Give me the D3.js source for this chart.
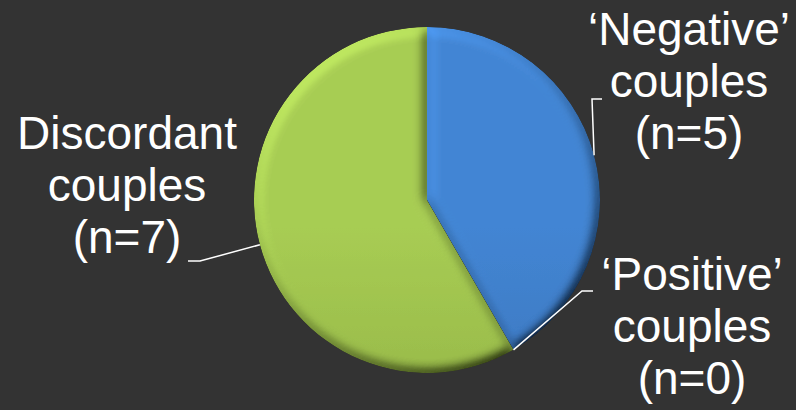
<!DOCTYPE html>
<html>
<head>
<meta charset="utf-8">
<script src="https://cdn.jsdelivr.net/npm/d3@7"></script>
<style>
  html, body { margin: 0; padding: 0; background: #333333; }
  svg { display: block; }
</style>
</head>
<body>
<svg id="chart" width="796" height="410"></svg>
<script>
// Couples by status
const categories = ["Negative", "Positive", "Discordant"];
const values = [5, 0, 7];
const labelLines = [
  ["\u2018Negative\u2019", "couples", "(n=5)"],
  ["\u2018Positive\u2019", "couples", "(n=0)"],
  ["Discordant", "couples", "(n=7)"]
];

const W = 796, H = 410;
const cx = 427, cy = 200, R = 173;
const svg = d3.select("#chart");
svg.append("rect").attr("width", W).attr("height", H).attr("fill", "#333333");

const defs = svg.append("defs");
const palette = {
  Negative: ["#4386d4", "#3669ac"],
  Positive: ["#c0504d", "#9b3b39"],
  Discordant: ["#a8cd54", "#88a63e"]
};
categories.forEach(c => {
  const g = defs.append("linearGradient").attr("id", "grad-" + c)
    .attr("gradientUnits", "userSpaceOnUse")
    .attr("x1", 0).attr("y1", cy - R).attr("x2", 0).attr("y2", cy + R);
  g.append("stop").attr("offset", "0%").attr("stop-color", palette[c][0]);
  g.append("stop").attr("offset", "100%").attr("stop-color", palette[c][1]);
});

// soft bevel along each slice's edges
const f = defs.append("filter").attr("id", "bevel")
  .attr("x", "-5%").attr("y", "-5%").attr("width", "110%").attr("height", "110%");
f.append("feGaussianBlur").attr("in", "SourceAlpha").attr("stdDeviation", 6).attr("result", "blur");
const dl = f.append("feDiffuseLighting").attr("in", "blur").attr("surfaceScale", 7)
  .attr("diffuseConstant", 1).attr("lighting-color", "#ffffff").attr("result", "light");
dl.append("feDistantLight").attr("azimuth", 235).attr("elevation", 50);
f.append("feComposite").attr("in", "light").attr("in2", "SourceAlpha").attr("operator", "in").attr("result", "lightIn");
f.append("feComposite").attr("in", "SourceGraphic").attr("in2", "lightIn")
  .attr("operator", "arithmetic").attr("k1", 1.3).attr("k2", 0).attr("k3", 0).attr("k4", 0);

const pie = d3.pie().sort(null).value(d => d.value);
const data = pie(categories.map((c, i) => ({ name: c, value: values[i], lines: labelLines[i] })));
const arc = d3.arc().innerRadius(0).outerRadius(R);

const g = svg.append("g").attr("transform", `translate(${cx},${cy})`);
g.selectAll("path.slice")
  .data(data.filter(d => d.data.value > 0))
  .join("path")
  .attr("class", "slice")
  .attr("d", arc)
  .attr("fill", d => `url(#grad-${d.data.name})`)
  .attr("filter", "url(#bevel)");

// label blocks and their leader stubs
const labelPos = {
  Negative: { x: 689, y: 45, stub: [602, 592, 99] },
  Positive: { x: 692, y: 290, stub: [593, 582, 291] },
  Discordant: { x: 127, y: 149, stub: [188, 200, 261] }
};
const lineH = 52;

data.forEach(d => {
  const p = labelPos[d.data.name];
  const mid = (d.startAngle + d.endAngle) / 2;
  const ex = cx + R * Math.sin(mid), ey = cy - R * Math.cos(mid);
  const [sx0, sx1, sy] = p.stub;
  svg.append("polyline")
    .attr("points", `${sx0},${sy} ${sx1},${sy} ${ex},${ey}`)
    .attr("fill", "none").attr("stroke", "#ffffff").attr("stroke-width", 1.5);
  const t = svg.append("text")
    .attr("text-anchor", "middle")
    .attr("fill", "#ffffff")
    .attr("font-family", "'Liberation Sans', Arial, sans-serif")
    .attr("font-size", 46);
  d.data.lines.forEach((s, i) => {
    t.append("tspan").attr("x", p.x).attr("y", p.y + i * lineH).text(s);
  });
});
</script>
</body>
</html>
